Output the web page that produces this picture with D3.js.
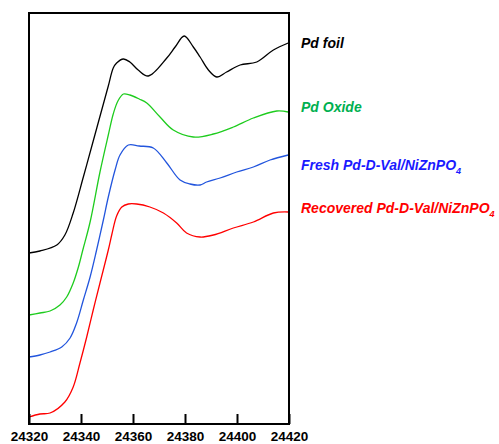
<!DOCTYPE html>
<html>
<head>
<meta charset="utf-8">
<script src="https://cdn.jsdelivr.net/npm/d3@7"></script>
<style>
  body { margin: 0; background: #fff; }
  svg { display: block; font-family: "Liberation Sans", Arial, sans-serif; }
</style>
</head>
<body>
<div id="chart"></div>
<script>
// energy (eV) and normalized absorbance (offset per sample)
var pdFoilE = [24320, 24324.2, 24330.7, 24333.8, 24337, 24340.9, 24344.7, 24348.6, 24350.5, 24352.4, 24353.7, 24356.3, 24358.8, 24362, 24365.9, 24373, 24376.2, 24379.7, 24383.2, 24385.8, 24389, 24392.2, 24396, 24401.2, 24407.6, 24414, 24419.7];
var pdFoilA = [1.71, 1.73, 1.79, 1.89, 2.11, 2.47, 2.83, 3.20, 3.38, 3.56, 3.61, 3.65, 3.62, 3.54, 3.48, 3.66, 3.77, 3.88, 3.77, 3.67, 3.54, 3.47, 3.52, 3.59, 3.62, 3.74, 3.81];

var oxideE = [24320, 24324.2, 24328.1, 24331.9, 24334.5, 24337, 24339, 24340.7, 24343.5, 24347.3, 24350.5, 24352.4, 24354.2, 24356.3, 24358.8, 24362.4, 24365.3, 24370.4, 24375.5, 24383.2, 24390.9, 24398.6, 24406.3, 24415.3, 24419.7];
var oxideA = [1.09, 1.11, 1.13, 1.19, 1.27, 1.41, 1.57, 1.74, 2.02, 2.52, 2.89, 3.10, 3.23, 3.30, 3.29, 3.25, 3.21, 3.07, 2.94, 2.87, 2.90, 2.97, 3.06, 3.13, 3.12];

var freshE = [24320, 24324.2, 24328.1, 24332.6, 24335.8, 24338.3, 24340.9, 24343.5, 24346, 24348.6, 24350.5, 24353.1, 24355, 24358.2, 24362.4, 24367.8, 24373, 24378.1, 24381.9, 24385.8, 24388.3, 24393.5, 24399.9, 24406.3, 24412.7, 24419.7];
var freshA = [0.67, 0.69, 0.72, 0.77, 0.86, 1.01, 1.24, 1.47, 1.74, 2.04, 2.27, 2.54, 2.69, 2.79, 2.78, 2.76, 2.61, 2.44, 2.40, 2.39, 2.42, 2.46, 2.52, 2.57, 2.64, 2.69];

var recE = [24320, 24324.2, 24328.1, 24333.8, 24337, 24339.6, 24342.2, 24344.7, 24347.3, 24350.5, 24351.9, 24353.7, 24355.7, 24358.2, 24361.4, 24366.5, 24371.7, 24376.8, 24380.6, 24385.8, 24390.9, 24398.6, 24406.3, 24414, 24419.7];
var recA = [0.07, 0.10, 0.11, 0.22, 0.37, 0.61, 0.87, 1.14, 1.41, 1.74, 1.90, 2.08, 2.17, 2.20, 2.20, 2.17, 2.11, 2.01, 1.91, 1.87, 1.89, 1.96, 2.02, 2.11, 2.12];

var xTicks = [24320, 24340, 24360, 24380, 24400, 24420];

var series = [
  { name: "Pd foil", sub: "", e: pdFoilE, a: pdFoilA, line: "#000000", text: "#000000", ly: 48 },
  { name: "Pd Oxide", sub: "", e: oxideE, a: oxideA, line: "#1ecc1e", text: "#00b050", ly: 112 },
  { name: "Fresh Pd-D-Val/NiZnPO", sub: "4", e: freshE, a: freshA, line: "#2255dd", text: "#1a1aff", ly: 170 },
  { name: "Recovered Pd-D-Val/NiZnPO", sub: "4", e: recE, a: recA, line: "#ff0000", text: "#ff0000", ly: 213 }
];

var width = 499,
    height = 444,
    margin = {top: 13, right: 210, bottom: 20, left: 29},
    w = width - margin.left - margin.right,
    h = height - margin.top - margin.bottom;

var svg = d3.select("#chart").append("svg")
  .attr("width", width)
  .attr("height", height);

var g = svg.append("g")
  .attr("transform", `translate(${margin.left},${margin.top})`);

var x = d3.scaleLinear().domain([24320, 24420]).range([0, w]);
var y = d3.scaleLinear().domain([0, 4.11]).range([h, 0]);

var line = d3.line()
  .x(d => x(d[0]))
  .y(d => y(d[1]))
  .curve(d3.curveCatmullRom.alpha(0.5));

series.forEach(s => {
  g.append("path")
    .datum(s.e.map((e, i) => [e, s.a[i]]))
    .attr("fill", "none")
    .attr("stroke", s.line)
    .attr("stroke-width", 1.3)
    .attr("d", line);
});

// x axis, ticks pointing inward
var xAxis = d3.axisBottom(x)
  .tickValues(xTicks)
  .tickFormat(d3.format("d"))
  .tickSizeInner(-10)
  .tickSizeOuter(0)
  .tickPadding(7);

var ax = g.append("g")
  .attr("transform", `translate(0,${h})`)
  .call(xAxis);
ax.select(".domain").remove();
ax.selectAll("line").attr("stroke", "#000").attr("stroke-width", 2);
ax.selectAll("text")
  .attr("fill", "#000")
  .style("font-size", "13.5px")
  .style("font-weight", "bold")
  .style("font-family", "'Liberation Sans', Arial, sans-serif");

// frame
g.append("rect")
  .attr("width", w)
  .attr("height", h)
  .attr("fill", "none")
  .attr("stroke", "#000")
  .attr("stroke-width", 2);

// labels
series.forEach(s => {
  var t = svg.append("text")
    .attr("x", margin.left + w + 12)
    .attr("y", s.ly)
    .attr("fill", s.text)
    .style("font-size", "14px")
    .style("font-weight", "bold")
    .style("font-style", "italic")
    .text(s.name);
  if (s.sub) {
    t.append("tspan")
      .attr("dy", 4)
      .style("font-size", "9px")
      .text(s.sub);
  }
});
</script>
</body>
</html>
